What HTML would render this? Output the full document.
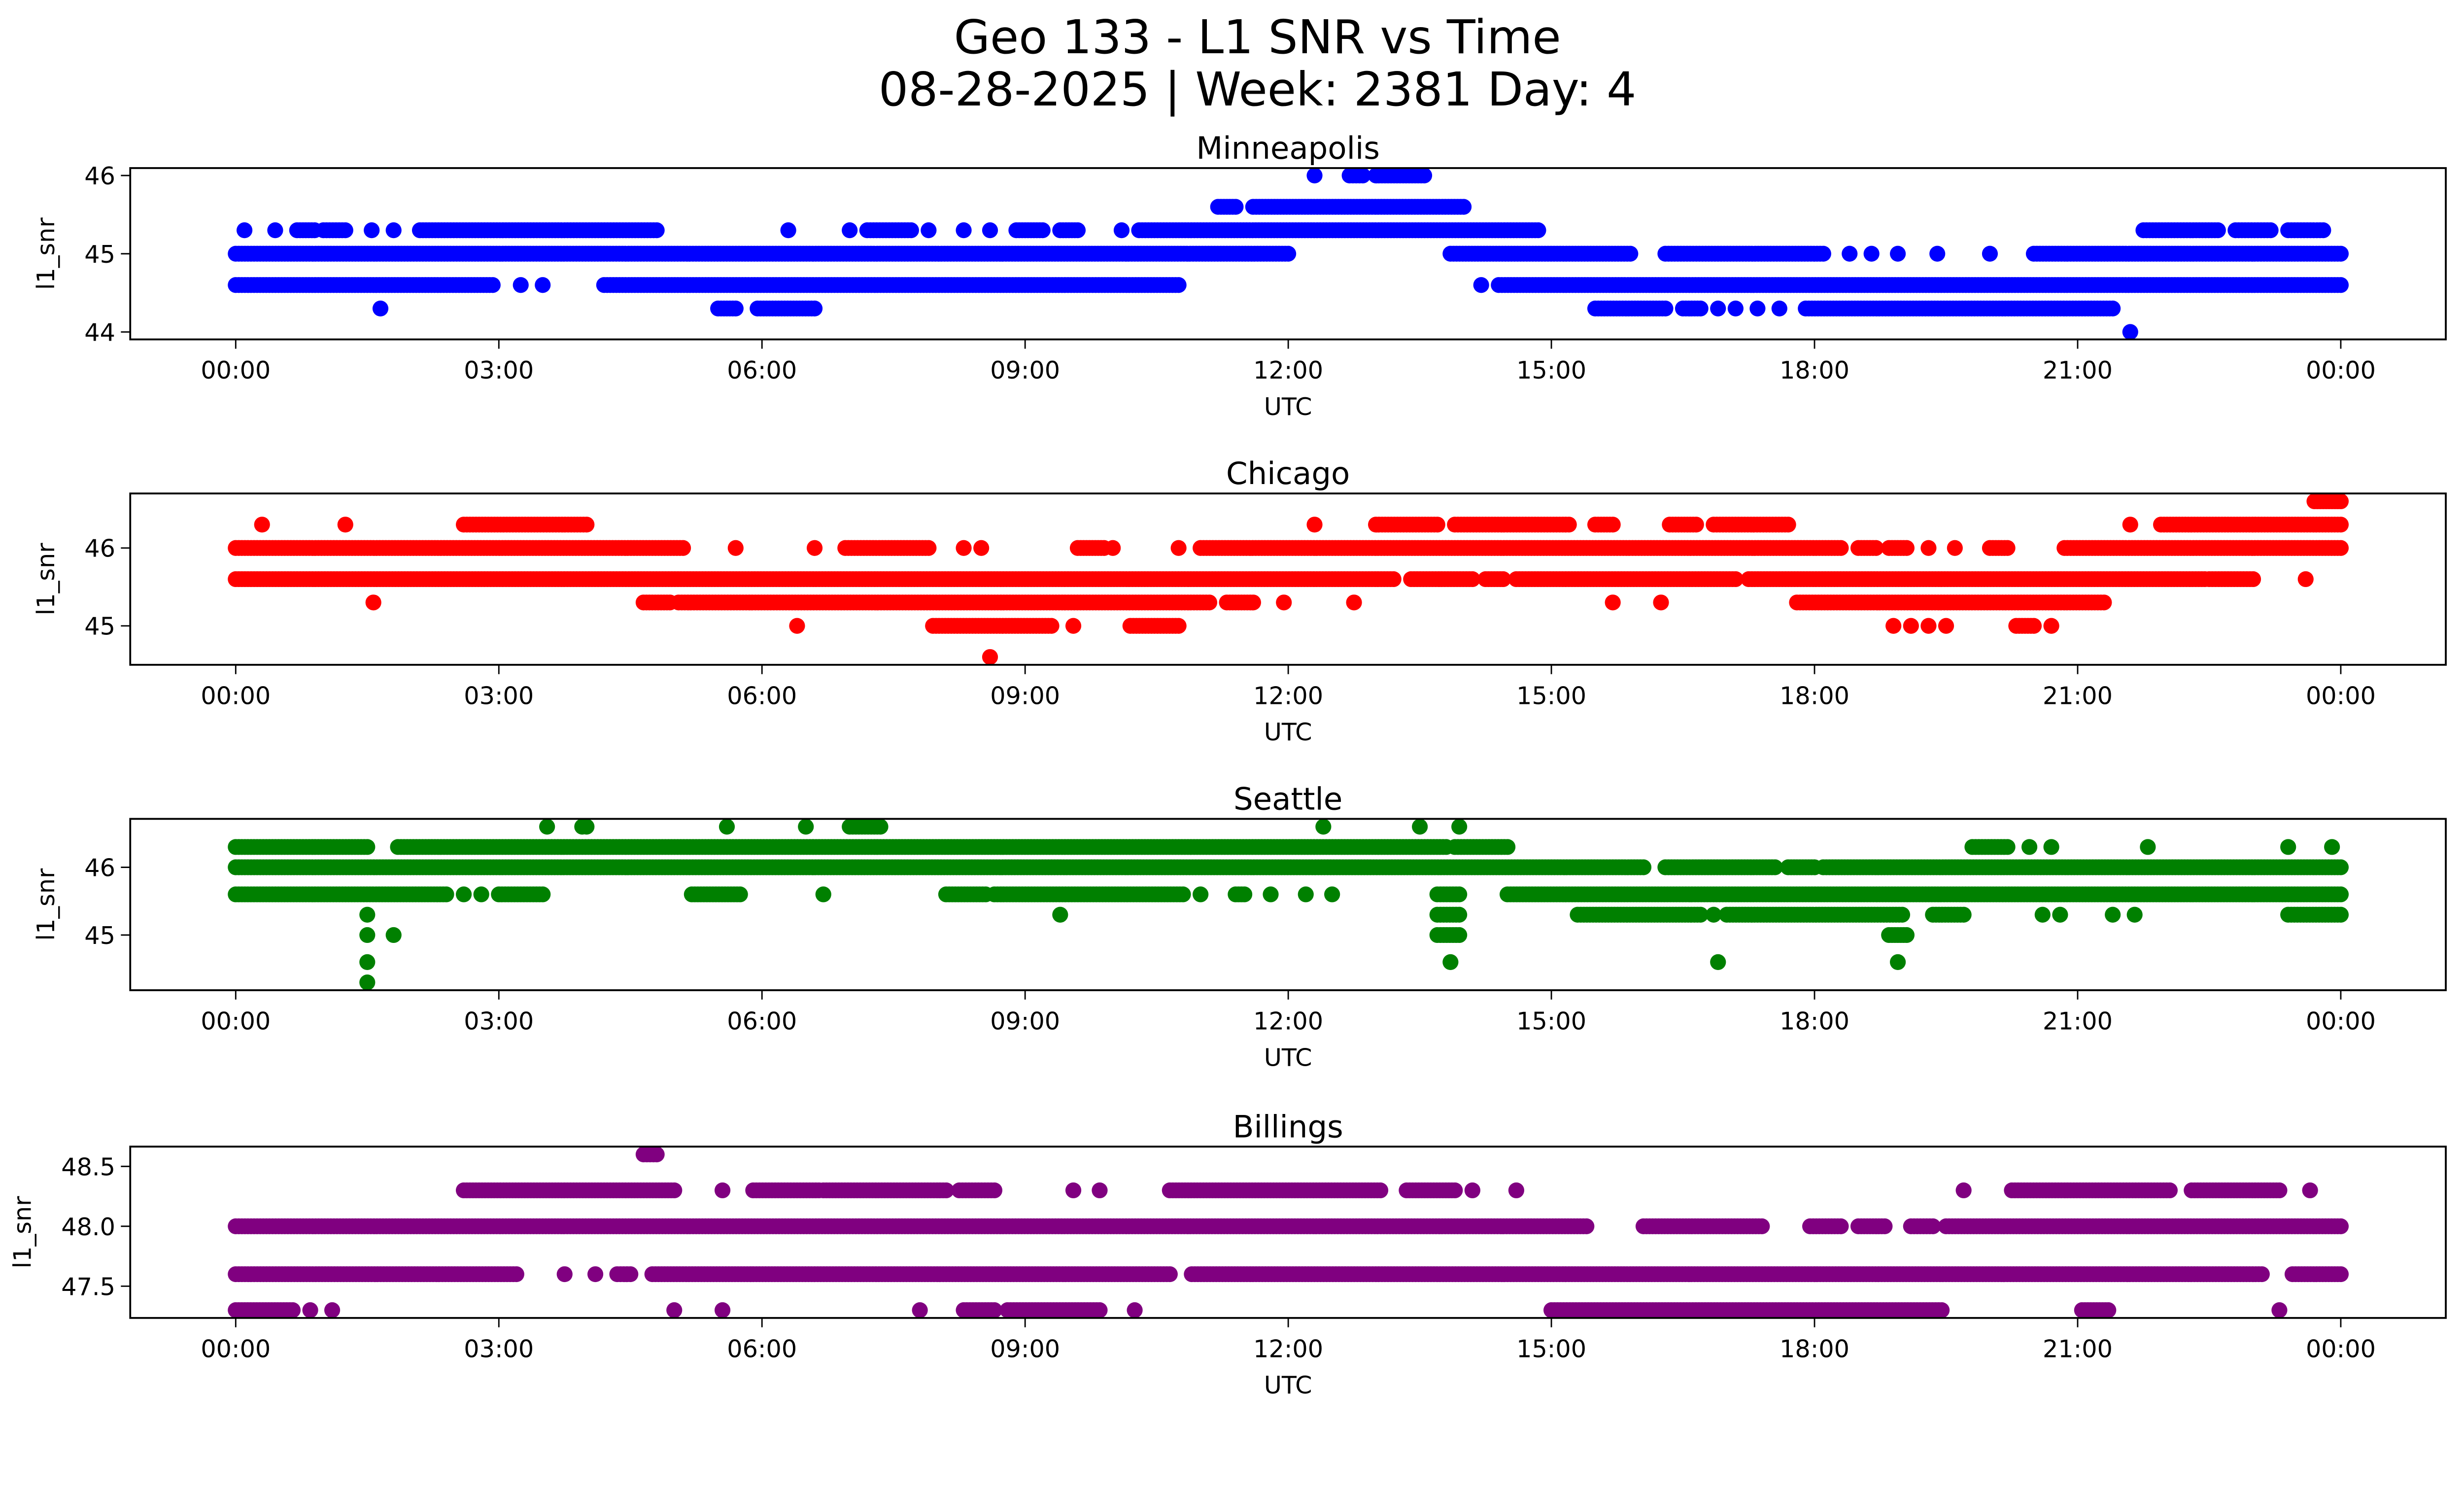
<!DOCTYPE html>
<html><head><meta charset="utf-8"><style>
html,body{margin:0;padding:0;background:#fff;overflow:hidden;}
svg{display:block;width:100vw;height:57.4541vw;font-family:"DejaVu Sans","Liberation Sans",sans-serif;}
</style></head><body>
<svg id="fig" viewBox="0 0 5279 3033" preserveAspectRatio="none" xmlns="http://www.w3.org/2000/svg">
<rect width="5279" height="3033" fill="#fff"/>
<text x="2694" y="114" font-size="100" text-anchor="middle">Geo 133 - L1 SNR vs Time</text>
<text x="2694" y="226" font-size="100" text-anchor="middle">08-28-2025 | Week: 2381 Day: 4</text>
</svg>
<script>
// Categories / ticks
const xTickLabels = ["00:00","03:00","06:00","09:00","12:00","15:00","18:00","21:00","00:00"];
const xTickHours = [0,3,6,9,12,15,18,21,24];
const panelNames = ["Minneapolis","Chicago","Seattle","Billings"];
const panelColors = ["#0000ff","#ff0000","#008000","#800080"];
const yTicks0 = [44,45,46];
const yTicks1 = [45,46];
const yTicks2 = [45,46];
const yTicks3 = [47.5,48.0,48.5];
const yTickLabels3 = ["47.5","48.0","48.5"];
const yLims = [[43.905,46.095],[44.5,46.7],[44.185,46.715],[47.235,48.665]];
// Series: [snr level, start hour, end hour]
const minneapolis = [
[46.0,12.3,12.3],[46.0,12.7,12.85],[46.0,13.0,13.55],
[45.6,11.2,11.4],[45.6,11.6,14.0],
[45.3,0.1,0.1],[45.3,0.45,0.45],[45.3,0.7,0.9],[45.3,1.0,1.25],[45.3,1.55,1.55],[45.3,1.8,1.8],[45.3,2.1,4.8],[45.3,6.3,6.3],[45.3,7.0,7.0],[45.3,7.2,7.7],[45.3,7.9,7.9],[45.3,8.3,8.3],[45.3,8.6,8.6],[45.3,8.9,9.2],[45.3,9.4,9.6],[45.3,10.1,10.1],[45.3,10.3,14.85],[45.3,21.75,22.6],[45.3,22.8,23.2],[45.3,23.4,23.8],
[45.0,0,12.0],[45.0,13.85,15.9],[45.0,16.3,18.1],[45.0,18.4,18.4],[45.0,18.65,18.65],[45.0,18.95,18.95],[45.0,19.4,19.4],[45.0,20.0,20.0],[45.0,20.5,24],
[44.6,0,2.93],[44.6,3.25,3.25],[44.6,3.5,3.5],[44.6,4.2,10.75],[44.6,14.2,14.2],[44.6,14.4,24],
[44.3,1.65,1.65],[44.3,5.5,5.7],[44.3,5.95,6.6],[44.3,15.5,16.3],[44.3,16.5,16.7],[44.3,16.9,16.9],[44.3,17.1,17.1],[44.3,17.35,17.35],[44.3,17.6,17.6],[44.3,17.9,21.4],
[44.0,21.6,21.6]];
const chicago = [
[46.6,23.7,24],
[46.3,0.3,0.3],[46.3,1.25,1.25],[46.3,2.6,4.0],[46.3,12.3,12.3],[46.3,13.0,13.7],[46.3,13.9,15.2],[46.3,15.5,15.7],[46.3,16.35,16.65],[46.3,16.85,17.7],[46.3,21.6,21.6],[46.3,21.95,24],
[46.0,0,5.1],[46.0,5.7,5.7],[46.0,6.6,6.6],[46.0,6.95,7.9],[46.0,8.3,8.3],[46.0,8.5,8.5],[46.0,9.6,9.9],[46.0,10.0,10.0],[46.0,10.75,10.75],[46.0,11.0,18.3],[46.0,18.5,18.7],[46.0,18.85,19.05],[46.0,19.3,19.3],[46.0,19.6,19.6],[46.0,20.0,20.2],[46.0,20.85,24],
[45.6,0,13.2],[45.6,13.4,14.1],[45.6,14.25,14.45],[45.6,14.6,17.1],[45.6,17.25,22.45],[45.6,22.5,23.0],[45.6,23.6,23.6],
[45.3,1.57,1.57],[45.3,4.65,4.95],[45.3,5.05,11.1],[45.3,11.3,11.6],[45.3,11.95,11.95],[45.3,12.75,12.75],[45.3,15.7,15.7],[45.3,16.25,16.25],[45.3,17.8,21.3],
[45.0,6.4,6.4],[45.0,7.95,9.3],[45.0,9.55,9.55],[45.0,10.2,10.75],[45.0,18.9,18.9],[45.0,19.1,19.1],[45.0,19.3,19.3],[45.0,19.5,19.5],[45.0,20.3,20.5],[45.0,20.7,20.7],
[44.6,8.6,8.6]];
const seattle = [
[46.6,3.55,3.55],[46.6,3.95,4.0],[46.6,5.6,5.6],[46.6,6.5,6.5],[46.6,7.0,7.35],[46.6,12.4,12.4],[46.6,13.5,13.5],[46.6,13.95,13.95],
[46.3,0,1.5],[46.3,1.85,13.8],[46.3,13.9,14.5],[46.3,19.8,20.2],[46.3,20.45,20.45],[46.3,20.7,20.7],[46.3,21.8,21.8],[46.3,23.4,23.4],[46.3,23.9,23.9],
[46.0,0,16.05],[46.0,16.3,17.55],[46.0,17.7,18.0],[46.0,18.1,24],
[45.6,0,2.4],[45.6,2.6,2.6],[45.6,2.8,2.8],[45.6,3.0,3.5],[45.6,5.2,5.75],[45.6,6.7,6.7],[45.6,8.1,8.55],[45.6,8.65,10.8],[45.6,11.0,11.0],[45.6,11.4,11.5],[45.6,11.8,11.8],[45.6,12.2,12.2],[45.6,12.5,12.5],[45.6,13.7,13.95],[45.6,14.5,24],
[45.3,1.5,1.5],[45.3,9.4,9.4],[45.3,13.7,13.95],[45.3,15.3,16.7],[45.3,16.85,16.85],[45.3,17.0,19.0],[45.3,19.35,19.7],[45.3,20.6,20.6],[45.3,20.8,20.8],[45.3,21.4,21.4],[45.3,21.65,21.65],[45.3,23.4,24],
[45.0,1.5,1.5],[45.0,1.8,1.8],[45.0,13.7,13.95],[45.0,18.85,19.05],
[44.6,1.5,1.5],[44.6,13.85,13.85],[44.6,16.9,16.9],[44.6,18.95,18.95],
[44.3,1.5,1.5]];
const billings = [
[48.6,4.65,4.8],
[48.3,2.6,5.0],[48.3,5.55,5.55],[48.3,5.9,6.65],[48.3,6.7,8.1],[48.3,8.25,8.65],[48.3,9.55,9.55],[48.3,9.85,9.85],[48.3,10.65,13.05],[48.3,13.35,13.9],[48.3,14.1,14.1],[48.3,14.6,14.6],[48.3,19.7,19.7],[48.3,20.25,22.05],[48.3,22.3,23.3],[48.3,23.65,23.65],
[48.0,0,15.4],[48.0,16.05,17.4],[48.0,17.95,18.3],[48.0,18.5,18.8],[48.0,19.1,19.35],[48.0,19.5,24],
[47.6,0,3.2],[47.6,3.75,3.75],[47.6,4.1,4.1],[47.6,4.35,4.5],[47.6,4.75,10.65],[47.6,10.9,23.1],[47.6,23.45,24],
[47.3,0,0.65],[47.3,0.85,0.85],[47.3,1.1,1.1],[47.3,5.0,5.0],[47.3,5.55,5.55],[47.3,7.8,7.8],[47.3,8.3,8.65],[47.3,8.8,9.85],[47.3,10.25,10.25],[47.3,15.0,19.45],[47.3,21.05,21.35],[47.3,23.3,23.3]];

const series=[minneapolis,chicago,seattle,billings];
const yTicksAll=[yTicks0,yTicks1,yTicks2,yTicks3];
const NS="http://www.w3.org/2000/svg";
const svg=document.getElementById('fig');
const L=279,R=5240,tops=[360,1057,1754,2456],H=367;
const x0=505,x24=5015;
function xs(h){return x0+(x24-x0)*h/24;}
function mk(tag,attrs,parent){const e=document.createElementNS(NS,tag);for(const k in attrs)e.setAttribute(k,attrs[k]);(parent||svg).appendChild(e);return e;}
for(let p=0;p<4;p++){
  const T=tops[p],B=T+H,[lo,hi]=yLims[p];
  const ys=v=>B-(v-lo)/(hi-lo)*H;
  const g=mk('g',{});
  
  
  const pg=mk('g',{fill:panelColors[p]},g);
  
  
  for(const [lev,s,e] of series[p]){
    const n=Math.max(1,Math.round((e-s)/0.035));
    for(let i=0;i<=n;i++){
      const h=s+(e-s)*(n?i/n:0);
      mk('ellipse',{cx:xs(h).toFixed(1),cy:ys(lev).toFixed(1),rx:17,ry:17},pg);
      if(e===s)break;
    }
  }
  const fr=mk('rect',{x:L,y:T,width:R-L,height:H,fill:'none',stroke:'#000','stroke-width':4},g);
  
  
  xTickHours.forEach((h,i)=>{
    const x=xs(h);
    mk('line',{x1:x,y1:B,x2:x,y2:B+20,stroke:'#000','stroke-width':3},g);
    const t=mk('text',{x:x,y:B+84,'font-size':52,'text-anchor':'middle'},g);
    t.textContent=xTickLabels[i];
    
    
  });
  yTicksAll[p].forEach((v,i)=>{
    const y=ys(v);
    mk('line',{x1:L,y1:y,x2:L-20,y2:y,stroke:'#000','stroke-width':3},g);
    const t=mk('text',{x:L-32,y:y+19,'font-size':52,'text-anchor':'end'},g);
    t.textContent=p===3?yTickLabels3[i]:String(v);
    
    
  });
  const ttl=mk('text',{x:(L+R)/2,y:T-20,'font-size':66,'text-anchor':'middle'},g);
  ttl.textContent=panelNames[p];
  
  
  const xl=mk('text',{x:(L+R)/2,y:B+162,'font-size':52,'text-anchor':'middle'},g);
  xl.textContent='UTC';
  
  
  const ylx=p===3?66:116;
  const yl=mk('text',{x:ylx,y:T+H/2,'font-size':52,'text-anchor':'middle',transform:`rotate(-90 ${ylx} ${T+H/2})`},g);
  yl.textContent='l1_snr';
  
  
}
</script>
</body></html>
